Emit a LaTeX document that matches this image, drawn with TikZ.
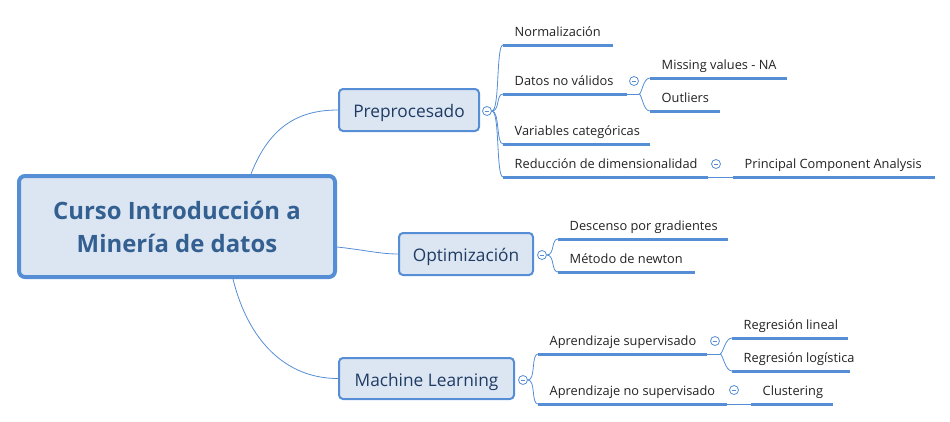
\documentclass[tikz,border=0pt]{standalone}
\usepackage{fontspec}
\setmainfont{Open Sans}
\usetikzlibrary{backgrounds}
\definecolor{xblue}{HTML}{558ED5}
\definecolor{xfill}{HTML}{DCE6F2}
\definecolor{ctext}{HTML}{335F91}
\definecolor{mtext}{HTML}{1F3B63}
\definecolor{ltext}{HTML}{222222}
\newcommand\mmtext[2]{\makebox[#1pt][l]{\hskip11.5pt #2}}
\begin{document}
\begin{tikzpicture}[x=1pt,y=-1pt,
 centralbox/.style={draw=xblue, line width=4pt, fill=xfill, rounded corners=6pt, text=ctext, font=\bfseries\fontsize{23.9}{33}\selectfont, align=center, inner sep=0pt},
 mainbox/.style={draw=xblue, line width=2pt, fill=xfill, rounded corners=4pt, text=mtext, font=\fontsize{17.3}{20}\selectfont, inner sep=0pt, text height=15pt, text depth=0pt},
 childnode/.style={anchor=south west, inner sep=0pt, text depth=8pt, text height=12pt, font=\fontsize{12.8}{15}\selectfont, text=ltext},
 uline/.style={draw=xblue, line width=3pt},
 conn/.style={draw=xblue, line width=0.8pt},
 collapse/.style={circle, draw=xblue, fill=white, line width=0.8pt, minimum size=9pt, inner sep=0pt, path picture={\draw[xblue, line width=0.8pt] ([xshift=-2.3pt]path picture bounding box.center) -- ([xshift=2.3pt]path picture bounding box.center);}},
]
\useasboundingbox (0,0) rectangle (950,421);
% main nodes
\node[centralbox, minimum width=316pt, minimum height=101pt] (c) at (177,226.5) {Curso Introducción a\\Minería de datos};
\node[mainbox, minimum width=140pt, minimum height=42pt] (pre) at (409,110) {Preprocesado};
\node[mainbox, minimum width=134pt, minimum height=42pt] (opt) at (466,254) {Optimización};
\node[mainbox, minimum width=175pt, minimum height=41pt] (ml) at (426.5,378.5) {Machine Learning};
\begin{pgfonlayer}{background}
\draw[conn] ([xshift=74pt]c.north) .. controls (270,125) and (300,110) .. (pre.west);
\draw[conn] ([yshift=-20.5pt]c.east) .. controls (365,250) and (380,254) .. (opt.west);
\draw[conn] ([xshift=56pt]c.south) .. controls (248,340) and (285,378.5) .. (ml.west);
\end{pgfonlayer}
% collapse icons of main nodes
\node[collapse] (pc) at (487,111) {};
\node[collapse] (oc) at (542,255) {};
\node[collapse] (mc) at (523,380) {};
% children
\node[childnode] (norm) at (503,45) {\mmtext{110}{Normalización}};
\node[childnode] (datos) at (503,94) {\mmtext{124}{Datos no válidos}};
\node[childnode] (vars) at (503,144) {\mmtext{147}{Variables categóricas}};
\node[childnode] (red) at (503,177) {\mmtext{205}{Reducción de dimensionalidad}};
\node[childnode] (miss) at (650,78) {\mmtext{137}{Missing values - NA}};
\node[childnode] (outl) at (650,111) {\mmtext{70}{Outliers}};
\node[childnode] (pca) at (733,177) {\mmtext{202}{Principal Component Analysis}};
\node[childnode] (desc) at (558,239) {\mmtext{170}{Descenso por gradientes}};
\node[childnode] (newt) at (558,272) {\mmtext{137}{Método de newton}};
\node[childnode] (sup) at (538,354) {\mmtext{169}{Aprendizaje supervisado}};
\node[childnode] (nosup) at (538,404) {\mmtext{189}{Aprendizaje no supervisado}};
\node[childnode] (rlin) at (732,338) {\mmtext{116}{Regresión lineal}};
\node[childnode] (rlog) at (732,371) {\mmtext{118}{Regresión logística}};
\node[childnode] (clus) at (751,404) {\mmtext{82}{Clustering}};
% branch connectors
\foreach \n in {norm,datos,vars,red}
  \draw[conn] (pc.east) .. controls +(8,0) and +(-7,0) .. (\n.south west);
\foreach \n in {desc,newt}
  \draw[conn] (oc.east) .. controls +(8,0) and +(-7,0) .. (\n.south west);
\foreach \n in {sup,nosup}
  \draw[conn] (mc.east) .. controls +(8,0) and +(-7,0) .. (\n.south west);
\coordinate (j1) at (639,94);
\draw[conn] (datos.south east) -- (j1);
\foreach \n in {miss,outl}
  \draw[conn] (j1) .. controls +(3,0) and +(-7,0) .. (\n.south west);
\draw[conn] (red.south east) -- (pca.south west);
\coordinate (j2) at (720,354);
\draw[conn] (sup.south east) -- (j2);
\foreach \n in {rlin,rlog}
  \draw[conn] (j2) .. controls +(3,0) and +(-7,0) .. (\n.south west);
\draw[conn] (nosup.south east) -- (clus.south west);
% underlines
\foreach \n in {norm,datos,vars,red,miss,outl,pca,desc,newt,sup,nosup,rlin,rlog,clus}
  \draw[uline] (\n.south west) -- (\n.south east);
% sub collapse icons
\node[collapse] (dc) at (634,81) {};
\node[collapse] (rc) at (716,164) {};
\node[collapse] (sc) at (715,341) {};
\node[collapse] (nc) at (734,390) {};
\end{tikzpicture}
\end{document}
